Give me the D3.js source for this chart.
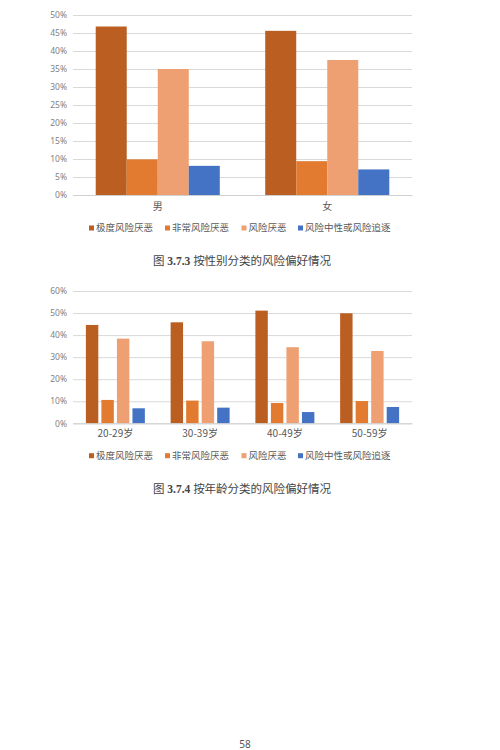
<!DOCTYPE html>
<html>
<head>
<meta charset="utf-8">
<script src="https://cdn.jsdelivr.net/npm/d3@7"></script>
<style>
  body { margin: 0; background: #fff; }
  svg { display: block; }
</style>
</head>
<body>
<svg id="page" width="500" height="750"></svg>
<script>
// series names (legend)
var seriesNames = ["极度风险厌恶", "非常风险厌恶", "风险厌恶", "风险中性或风险追逐"];
var seriesColors = ["#bb5e21", "#e27b30", "#efa072", "#4472c4"];

// figure 3.7.3 - by gender
var genderCats = ["男", "女"];
var genderValues = [
  [0.468, 0.099, 0.350, 0.081],   // 男
  [0.456, 0.094, 0.375, 0.071]    // 女
];
var genderTicks = [0, 0.05, 0.10, 0.15, 0.20, 0.25, 0.30, 0.35, 0.40, 0.45, 0.50];

// figure 3.7.4 - by age
var ageCats = ["20-29岁", "30-39岁", "40-49岁", "50-59岁"];
var ageValues = [
  [0.446, 0.106, 0.384, 0.068],
  [0.458, 0.103, 0.372, 0.071],
  [0.511, 0.092, 0.345, 0.051],
  [0.499, 0.101, 0.328, 0.074]
];
var ageTicks = [0, 0.10, 0.20, 0.30, 0.40, 0.50, 0.60];

var svg = d3.select("#page");
var cjk = "'Noto Sans CJK SC', 'Noto Sans', sans-serif";

function drawChart(opt) {
  var g = svg.append("g");

  var y = d3.scaleLinear().domain([0, opt.max]).range([opt.bottom, opt.top]);
  var x0 = d3.scaleBand().domain(opt.cats).range([73, 412])
    .paddingInner(opt.pad).paddingOuter(opt.pad / 2);
  var x1 = d3.scaleBand().domain(d3.range(seriesNames.length))
    .range([0, x0.bandwidth()]).paddingInner(opt.subPad);

  // gridlines + y labels
  var yAxis = g.append("g")
    .attr("transform", "translate(73,0)")
    .call(d3.axisLeft(y).tickValues(opt.ticks).tickSize(-(412 - 73)).tickPadding(6)
      .tickFormat(function(d) { return Math.round(d * 100) + "%"; }));
  yAxis.select(".domain").remove();
  yAxis.selectAll(".tick line").attr("stroke", "#d9d9d9");
  yAxis.selectAll(".tick text")
    .attr("font-family", "'Noto Sans', sans-serif")
    .attr("font-size", 8.5)
    .attr("fill", "#7f7f7f");

  // bars
  g.selectAll(".grp")
    .data(opt.values)
    .enter().append("g")
    .attr("transform", function(d, i) { return "translate(" + x0(opt.cats[i]) + ",0)"; })
    .selectAll("rect")
    .data(function(d) { return d; })
    .enter().append("rect")
    .attr("x", function(d, j) { return x1(j); })
    .attr("width", x1.bandwidth())
    .attr("y", function(d) { return y(d); })
    .attr("height", function(d) { return y(0) - y(d); })
    .attr("fill", function(d, j) { return seriesColors[j]; });

  // bottom axis line
  var xAxis = g.append("g")
    .attr("transform", "translate(0," + opt.bottom + ")")
    .call(d3.axisBottom(x0).tickSize(0).tickPadding(opt.catPad));
  xAxis.select(".domain").attr("stroke", "#d0d0d0");
  xAxis.selectAll(".tick text")
    .attr("font-family", cjk)
    .attr("font-size", 10)
    .attr("fill", "#595959");

  // legend
  var legendX = [89, 165, 241.5, 298];
  var legend = g.selectAll(".legend")
    .data(seriesNames)
    .enter().append("g")
    .attr("transform", function(d, i) { return "translate(" + legendX[i] + "," + opt.legendY + ")"; });
  legend.append("rect")
    .attr("x", 0).attr("y", -2.5)
    .attr("width", 5).attr("height", 5)
    .attr("fill", function(d, i) { return seriesColors[i]; });
  legend.append("text")
    .attr("x", 7)
    .attr("dy", "0.35em")
    .attr("font-family", cjk)
    .attr("font-size", 9.5)
    .attr("fill", "#595959")
    .text(function(d) { return d; });

  // caption
  var cap = g.append("text")
    .attr("x", 242)
    .attr("y", opt.captionY)
    .attr("dy", "0.35em")
    .attr("text-anchor", "middle")
    .attr("font-family", "'Liberation Serif', 'Noto Sans CJK SC', serif")
    .attr("font-size", 11.5)
    .attr("fill", "#444");
  cap.append("tspan").text("图 ");
  cap.append("tspan").attr("font-weight", "bold").text(opt.figNo);
  cap.append("tspan").text("  " + opt.caption);
}

drawChart({
  cats: genderCats, values: genderValues, ticks: genderTicks, max: 0.5,
  top: 15, bottom: 195, pad: 0.268, subPad: 0, catPad: 8,
  legendY: 228, captionY: 261, figNo: "3.7.3", caption: "按性别分类的风险偏好情况"
});

drawChart({
  cats: ageCats, values: ageValues, ticks: ageTicks, max: 0.6,
  top: 291, bottom: 423.3, pad: 0.304, subPad: 0.2, catPad: 7,
  legendY: 455.7, captionY: 489, figNo: "3.7.4", caption: "按年龄分类的风险偏好情况"
});

// page number
svg.append("text")
  .attr("x", 245).attr("y", 744)
  .attr("dy", "0.35em")
  .attr("text-anchor", "middle")
  .attr("font-family", "'Noto Sans', sans-serif")
  .attr("font-size", 10)
  .attr("fill", "#555")
  .text("58");
</script>
</body>
</html>
